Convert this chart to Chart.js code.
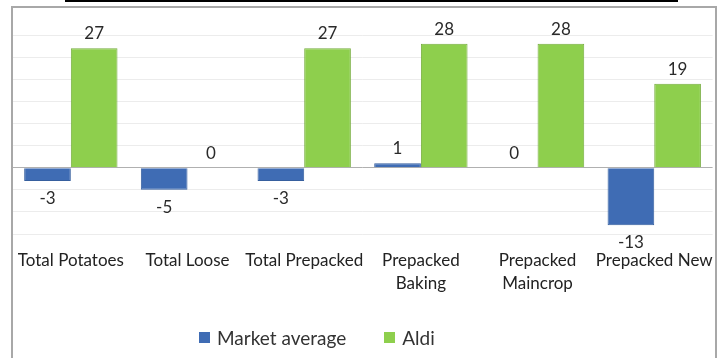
<!DOCTYPE html>
<html>
<head>
<meta charset="utf-8">
<title>Potatoes</title>
<script src="https://cdn.jsdelivr.net/npm/chart.js"></script>
<style>
    body { margin: 0; background: #fff; font-family: Lato, sans-serif; }
    #topline { position: absolute; left: 65px; top: 0; width: 613px; height: 2px; background: #000; }
    #frame {
        position: absolute; left: 11px; top: 6px; width: 702px; height: 360px;
        border: 2px solid #a8a8a8; border-bottom: none; overflow: hidden;
    }
    #chartBox { position: absolute; left: -9px; top: 0; width: 723px; height: 350px; }
    #legend {
        position: absolute; left: 186px; top: 318px; font-size: 19px; color: #333;
        display: flex; align-items: center;
    }
    #legend span.box { display: inline-block; width: 11px; height: 11px; margin-right: 7px; }
    #legend span.item { display: flex; align-items: center; margin-right: 38px; }
</style>
</head>
<body>
<div id="topline"></div>
<div id="frame">
    <div id="chartBox"><canvas id="chart"></canvas></div>
    <div id="legend"></div>
</div>

<script>
    const categories = ['Total Potatoes', 'Total Loose', 'Total Prepacked', ['Prepacked', 'Baking'], ['Prepacked', 'Maincrop'], 'Prepacked New'];
    const marketAverage = [-3, -5, -3, 1, 0, -13];
    const aldi = [27, 0, 27, 28, 28, 19];
    const seriesNames = ['Market average', 'Aldi'];
    const seriesColors = ['#3f6cb4', '#8ecf4d'];
    const seriesBorders = ['#365f9e', '#76ad3e'];

    // value labels above / below each bar
    const valueLabels = {
        id: 'valueLabels',
        afterDatasetsDraw(chart) {
            const c = chart.ctx;
            c.save();
            c.font = '17px Lato';
            c.fillStyle = '#2a2a2a';
            c.textAlign = 'center';
            chart.data.datasets.forEach((ds, i) => {
                chart.getDatasetMeta(i).data.forEach((bar, j) => {
                    const v = ds.data[j];
                    if (v >= 0) {
                        c.textBaseline = 'bottom';
                        c.fillText(v, bar.x, bar.y - 6);
                    } else {
                        c.textBaseline = 'top';
                        c.fillText(v, bar.x, bar.y + 9);
                    }
                });
            });
            c.restore();
        }
    };

    const ctx = document.getElementById('chart').getContext('2d');
    const chart = new Chart(ctx, {
        type: 'bar',
        data: {
            labels: categories,
            datasets: [
                { label: seriesNames[0], data: marketAverage, backgroundColor: seriesColors[0], borderColor: seriesBorders[0], borderWidth: 1 },
                { label: seriesNames[1], data: aldi, backgroundColor: seriesColors[1], borderColor: seriesBorders[1], borderWidth: 1 }
            ]
        },
        options: {
            responsive: true,
            maintainAspectRatio: false,
            animation: false,
            categoryPercentage: 0.8,
            barPercentage: 1.0,
            layout: { padding: { top: 27, bottom: 48, left: 0, right: 0 } },
            plugins: {
                legend: { display: false },
                tooltip: { enabled: false }
            },
            scales: {
                x: {
                    grid: { display: false, drawTicks: false },
                    border: { display: false },
                    ticks: {
                        padding: 15,
                        color: '#222',
                        font: { family: 'Lato', size: 17, lineHeight: 1.35 },
                        maxRotation: 0,
                        autoSkip: false
                    }
                },
                y: {
                    min: -15,
                    max: 30,
                    ticks: { display: false, stepSize: 5 },
                    border: { display: false },
                    grid: {
                        drawTicks: false,
                        color: c => c.tick.value === 0 ? '#b0b0b0' : '#ececec'
                    }
                }
            }
        },
        plugins: [valueLabels]
    });

    const legend = document.getElementById('legend');
    seriesNames.forEach((name, i) => {
        const item = document.createElement('span');
        item.className = 'item';
        item.innerHTML = '<span class="box" style="background:' + seriesColors[i] + '"></span>' + name;
        legend.appendChild(item);
    });
</script>
</body>
</html>
